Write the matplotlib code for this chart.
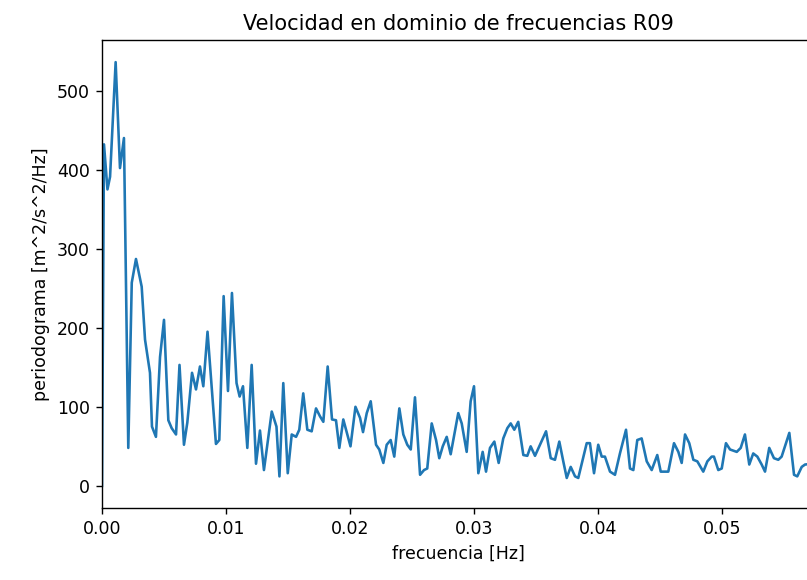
import matplotlib
matplotlib.use("Agg")
import matplotlib.pyplot as plt

# periodogram (frequency in Hz, power)
freq = [0.0, 0.00016, 0.00044, 0.00065, 0.0011, 0.00145, 0.00177, 0.00212, 0.0024, 0.00274,
        0.0032, 0.00347, 0.00387, 0.00403, 0.00435, 0.00468, 0.005, 0.00535, 0.00562, 0.00597,
        0.00625, 0.00661, 0.00688, 0.00726, 0.00758, 0.0079, 0.00817, 0.00851, 0.00919, 0.00946,
        0.00981, 0.01016, 0.01048, 0.01085, 0.0111, 0.01137, 0.01172, 0.01207, 0.01242, 0.01274,
        0.01306, 0.01369, 0.01407, 0.01431, 0.01462, 0.01498, 0.0153, 0.01565, 0.01591, 0.01623,
        0.01656, 0.01691, 0.01726, 0.01758, 0.01785, 0.0182, 0.01855, 0.01887, 0.01914, 0.01946,
        0.02004, 0.02044, 0.02081, 0.02105, 0.02135, 0.02167, 0.0221, 0.02236, 0.02269, 0.02296,
        0.02328, 0.02357, 0.02398, 0.0243, 0.02462, 0.0249, 0.02524, 0.02565, 0.02597, 0.02623,
        0.02659, 0.02694, 0.0272, 0.02748, 0.0278, 0.02812, 0.02873, 0.02901, 0.02941, 0.02973,
        0.03, 0.03035, 0.0307, 0.03097, 0.03129, 0.03164, 0.03199, 0.03236, 0.03269, 0.03296,
        0.03325, 0.03357, 0.03398, 0.0343, 0.03457, 0.03492, 0.03532, 0.03581, 0.03619, 0.03653,
        0.03688, 0.0372, 0.03748, 0.0378, 0.03815, 0.03841, 0.03909, 0.03935, 0.03968, 0.04002,
        0.0403, 0.04056, 0.04097, 0.04137, 0.04177, 0.04226, 0.04258, 0.04285, 0.04317, 0.04352,
        0.04393, 0.04433, 0.04478, 0.04506, 0.04567, 0.04613, 0.04648, 0.04675, 0.04702, 0.04736,
        0.04769, 0.04801, 0.04849, 0.04882, 0.04917, 0.04935, 0.0497, 0.04998, 0.05032, 0.05065,
        0.05119, 0.05151, 0.05185, 0.0522, 0.05252, 0.05285, 0.0532, 0.05347, 0.05381, 0.05419,
        0.05454, 0.05481, 0.05508, 0.05543, 0.05581, 0.05607, 0.05643, 0.0567, 0.05726]

power = [0, 432, 375, 391, 536, 402, 440, 48, 257, 287,
         252, 185, 143, 75, 62, 163, 210, 83, 73, 65,
         153, 52, 80, 143, 122, 151, 126, 195, 53, 58,
         240, 120, 244, 130, 113, 126, 48, 153, 28, 70,
         20, 94, 75, 12, 130, 16, 65, 62, 71, 117,
         71, 69, 98, 88, 81, 151, 84, 83, 48, 84,
         50, 100, 86, 68, 92, 107, 52, 46, 29, 52,
         58, 37, 98, 65, 52, 46, 112, 14, 20, 22,
         79, 58, 35, 50, 62, 40, 92, 79, 43, 107,
         126, 16, 43, 18, 48, 56, 29, 60, 73, 79,
         71, 81, 39, 38, 50, 38, 52, 69, 35, 33,
         56, 31, 10, 24, 12, 10, 54, 54, 16, 52,
         37, 37, 18, 14, 41, 71, 22, 20, 58, 60,
         31, 20, 39, 18, 18, 54, 43, 29, 65, 54,
         33, 31, 18, 31, 37, 37, 20, 22, 54, 46,
         43, 48, 65, 27, 41, 37, 27, 18, 48, 35,
         33, 37, 50, 67, 14, 12, 24, 27, 28]

xticks = [0.0, 0.01, 0.02, 0.03, 0.04, 0.05]
yticks = [0, 100, 200, 300, 400, 500]

fig = plt.figure(figsize=(807 / 125, 580 / 125), dpi=125)
ax = fig.add_axes([102 / 807, 72 / 580, 712 / 807, 468 / 580])
ax.plot(freq, power, color="#1f77b4", lw=1.5)

ax.set_xlim(0, 0.05742)
ax.set_ylim(-28, 564)
ax.set_xticks(xticks)
ax.set_xticklabels([f"{t:.2f}" for t in xticks])
ax.set_yticks(yticks)

ax.set_title("Velocidad en dominio de frecuencias R09")
ax.set_xlabel("frecuencia [Hz]")
ax.set_ylabel("periodograma [m^2/s^2/Hz]")

fig.savefig("out.png", dpi=125)
